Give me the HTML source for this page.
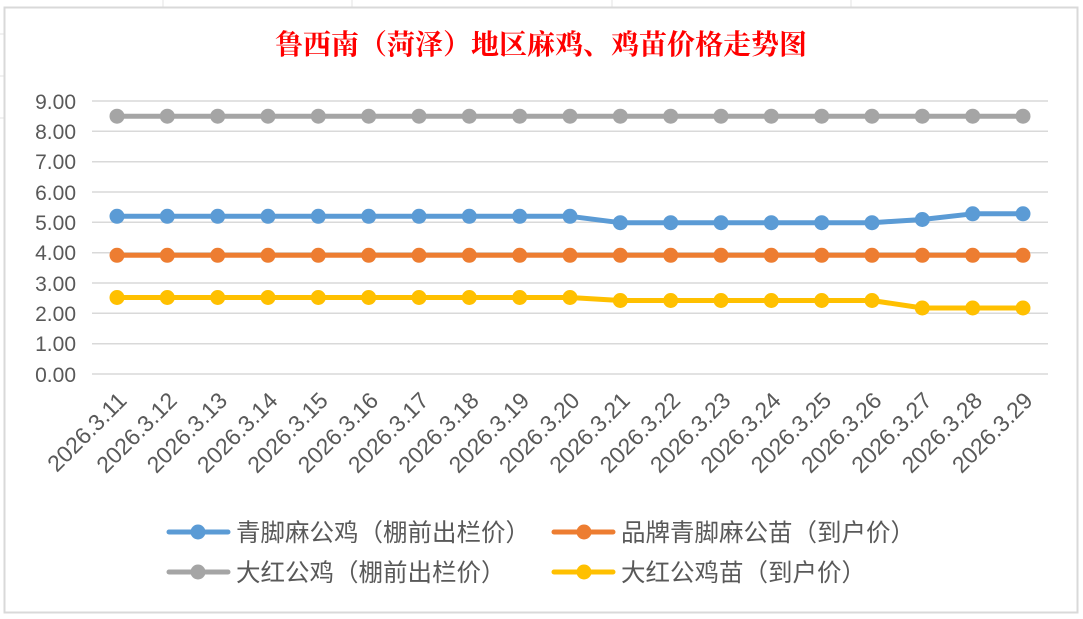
<!DOCTYPE html>
<html><head><meta charset="utf-8"><style>
html,body{margin:0;padding:0;background:#fff;}
svg{display:block;}
text{font-family:"Liberation Sans","Noto Sans CJK SC",sans-serif;}
</style></head><body>
<svg width="1083" height="619" viewBox="0 0 1083 619" xmlns="http://www.w3.org/2000/svg">
<defs>
<marker id="mb" markerWidth="16" markerHeight="16" refX="8" refY="8" markerUnits="userSpaceOnUse"><circle cx="8" cy="8" r="7.5" fill="#5B9BD5"/></marker>
<marker id="mo" markerWidth="16" markerHeight="16" refX="8" refY="8" markerUnits="userSpaceOnUse"><circle cx="8" cy="8" r="7.5" fill="#ED7D31"/></marker>
<marker id="mg" markerWidth="16" markerHeight="16" refX="8" refY="8" markerUnits="userSpaceOnUse"><circle cx="8" cy="8" r="7.5" fill="#A5A5A5"/></marker>
<marker id="my" markerWidth="16" markerHeight="16" refX="8" refY="8" markerUnits="userSpaceOnUse"><circle cx="8" cy="8" r="7.5" fill="#FFC000"/></marker>
</defs>
<rect x="0" y="0" width="1083" height="619" fill="#fff"/>
<g stroke="#e3e3e3" stroke-width="1">
<line x1="163" y1="0" x2="163" y2="7"/><line x1="352" y1="0" x2="352" y2="7"/><line x1="612" y1="0" x2="612" y2="7"/><line x1="851" y1="0" x2="851" y2="7"/>
<line x1="0" y1="34" x2="4" y2="34"/><line x1="0" y1="76" x2="4" y2="76"/><line x1="0" y1="118" x2="4" y2="118"/>
</g>
<rect x="4.5" y="7.5" width="1073" height="605" fill="#fff" stroke="#d9d9d9" stroke-width="2"/>
<text x="541" y="54" text-anchor="middle" font-size="28" font-weight="bold" fill="#ff0000" style="font-family:'Liberation Serif','Noto Serif CJK SC',serif">鲁西南（菏泽）地区麻鸡、鸡苗价格走势图</text>
<g stroke="#d9d9d9" stroke-width="1.5">
<line x1="92" y1="101" x2="1048" y2="101"/><line x1="92" y1="131.3" x2="1048" y2="131.3"/><line x1="92" y1="161.7" x2="1048" y2="161.7"/><line x1="92" y1="192" x2="1048" y2="192"/><line x1="92" y1="222.3" x2="1048" y2="222.3"/><line x1="92" y1="252.7" x2="1048" y2="252.7"/><line x1="92" y1="283" x2="1048" y2="283"/><line x1="92" y1="313.3" x2="1048" y2="313.3"/><line x1="92" y1="343.7" x2="1048" y2="343.7"/><line x1="92" y1="374" x2="1048" y2="374"/>
</g>
<g font-size="21" fill="#595959" text-anchor="end">
<text x="76" y="109">9.00</text><text x="76" y="139">8.00</text><text x="76" y="169">7.00</text><text x="76" y="200">6.00</text><text x="76" y="230">5.00</text><text x="76" y="260">4.00</text><text x="76" y="291">3.00</text><text x="76" y="321">2.00</text><text x="76" y="351">1.00</text><text x="76" y="382">0.00</text>
</g>
<g fill="none" stroke-width="5" stroke-linejoin="round">
<polyline stroke="#A5A5A5" marker-start="url(#mg)" marker-mid="url(#mg)" marker-end="url(#mg)" points="117,116.2 167.3,116.2 217.7,116.2 268,116.2 318.3,116.2 368.7,116.2 419,116.2 469.3,116.2 519.7,116.2 570,116.2 620.3,116.2 670.7,116.2 721,116.2 771.3,116.2 821.7,116.2 872,116.2 922.3,116.2 972.7,116.2 1023,116.2"/>
<polyline stroke="#5B9BD5" marker-start="url(#mb)" marker-mid="url(#mb)" marker-end="url(#mb)" points="117,216.3 167.3,216.3 217.7,216.3 268,216.3 318.3,216.3 368.7,216.3 419,216.3 469.3,216.3 519.7,216.3 570,216.3 620.3,222.7 670.7,222.7 721,222.7 771.3,222.7 821.7,222.7 872,222.7 922.3,219.5 972.7,213.8 1023,213.8"/>
<polyline stroke="#ED7D31" marker-start="url(#mo)" marker-mid="url(#mo)" marker-end="url(#mo)" points="117,255.3 167.3,255.3 217.7,255.3 268,255.3 318.3,255.3 368.7,255.3 419,255.3 469.3,255.3 519.7,255.3 570,255.3 620.3,255.3 670.7,255.3 721,255.3 771.3,255.3 821.7,255.3 872,255.3 922.3,255.3 972.7,255.3 1023,255.3"/>
<polyline stroke="#FFC000" marker-start="url(#my)" marker-mid="url(#my)" marker-end="url(#my)" points="117,297.5 167.3,297.5 217.7,297.5 268,297.5 318.3,297.5 368.7,297.5 419,297.5 469.3,297.5 519.7,297.5 570,297.5 620.3,300.5 670.7,300.5 721,300.5 771.3,300.5 821.7,300.5 872,300.5 922.3,308 972.7,308 1023,308"/>
</g>
<g font-size="23" fill="#595959" text-anchor="end">
<text transform="translate(128,402) rotate(-45)">2026.3.11</text>
<text transform="translate(178.3,402) rotate(-45)">2026.3.12</text>
<text transform="translate(228.7,402) rotate(-45)">2026.3.13</text>
<text transform="translate(279,402) rotate(-45)">2026.3.14</text>
<text transform="translate(329.3,402) rotate(-45)">2026.3.15</text>
<text transform="translate(379.7,402) rotate(-45)">2026.3.16</text>
<text transform="translate(430,402) rotate(-45)">2026.3.17</text>
<text transform="translate(480.3,402) rotate(-45)">2026.3.18</text>
<text transform="translate(530.7,402) rotate(-45)">2026.3.19</text>
<text transform="translate(581,402) rotate(-45)">2026.3.20</text>
<text transform="translate(631.3,402) rotate(-45)">2026.3.21</text>
<text transform="translate(681.7,402) rotate(-45)">2026.3.22</text>
<text transform="translate(732,402) rotate(-45)">2026.3.23</text>
<text transform="translate(782.3,402) rotate(-45)">2026.3.24</text>
<text transform="translate(832.7,402) rotate(-45)">2026.3.25</text>
<text transform="translate(883,402) rotate(-45)">2026.3.26</text>
<text transform="translate(933.3,402) rotate(-45)">2026.3.27</text>
<text transform="translate(983.7,402) rotate(-45)">2026.3.28</text>
<text transform="translate(1034,402) rotate(-45)">2026.3.29</text>
</g>
<g stroke-width="5" stroke-linecap="round">
<line x1="169" y1="532" x2="228" y2="532" stroke="#5B9BD5"/><circle cx="198" cy="532" r="7.5" fill="#5B9BD5"/>
<line x1="554" y1="532" x2="613" y2="532" stroke="#ED7D31"/><circle cx="584" cy="532" r="7.5" fill="#ED7D31"/>
<line x1="169" y1="572" x2="228" y2="572" stroke="#A5A5A5"/><circle cx="198" cy="572" r="7.5" fill="#A5A5A5"/>
<line x1="554" y1="572" x2="613" y2="572" stroke="#FFC000"/><circle cx="584" cy="572" r="7.5" fill="#FFC000"/>
</g>
<g font-size="24.5" fill="#595959">
<text x="236" y="541">青脚麻公鸡（棚前出栏价）</text>
<text x="621" y="541">品牌青脚麻公苗（到户价）</text>
<text x="236" y="581">大红公鸡（棚前出栏价）</text>
<text x="621" y="581">大红公鸡苗（到户价）</text>
</g>
</svg>
</body></html>
